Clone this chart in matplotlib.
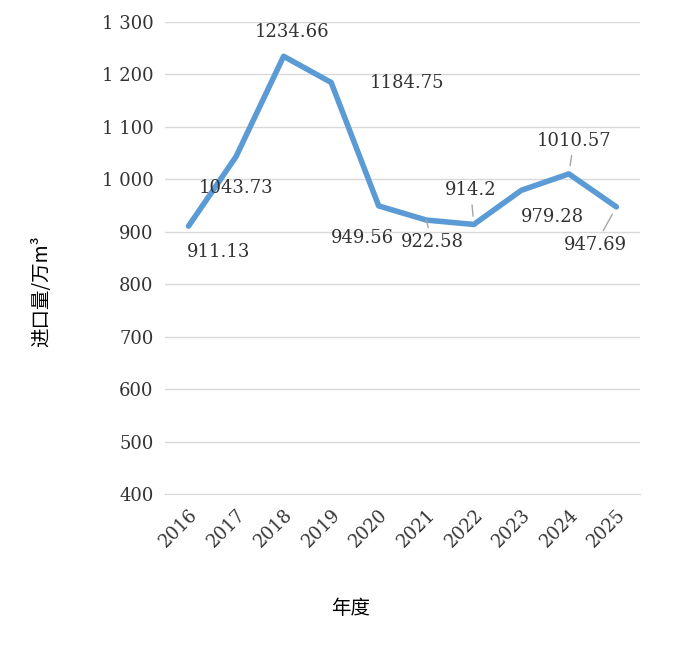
import matplotlib
matplotlib.use("Agg")
import matplotlib.pyplot as plt

years = ["2016","2017","2018","2019","2020","2021","2022","2023","2024","2025"]
values = [911.13,1043.73,1234.66,1184.75,949.56,922.58,914.2,979.28,1010.57,947.69]
labels = ["911.13","1043.73","1234.66","1184.75","949.56","922.58","914.2","979.28","1010.57","947.69"]
yticks = [400,500,600,700,800,900,1000,1100,1200,1300]
ytick_labels = ["400","500","600","700","800","900","1 000","1 100","1 200","1 300"]
# label offsets in pixels (dx, dy up)
offs = [(30,-26),(0,-32),(8,24),(76,-1),(-16,-32),(6,-22),(-3,34),(31,-27),(5,33),(-21,-38)]
leader = [False,False,False,False,False,True,True,False,True,True]

plt.rcParams['font.family'] = ['DejaVu Serif', 'Noto Sans CJK SC']
fig = plt.figure(figsize=(6.81,6.47), dpi=100)
ax = fig.add_axes([0.242,0.236,0.698,0.730])
x = list(range(len(years)))
ax.plot(x, values, color='#5b9bd5', lw=4, solid_capstyle='round', zorder=3)
ax.set_xlim(-0.5, len(years)-0.5)
ax.set_ylim(400,1300)
ax.set_yticks(yticks)
ax.set_yticklabels(ytick_labels)
ax.set_xticks(x)
ax.set_xticklabels(years, rotation=45, ha='right', rotation_mode='anchor')
ax.grid(axis='y', color='#d9d9d9', lw=1)
ax.set_axisbelow(True)
for s in ['top','right','left']:
    ax.spines[s].set_visible(False)
ax.spines['bottom'].set_color('#d9d9d9')
ax.tick_params(length=0, labelsize=13, colors='#333333', pad=8)
for i,(v,l,(dx,dy),ld) in enumerate(zip(values,labels,offs,leader)):
    ap = dict(arrowstyle='-', color='#a6a6a6', lw=1, shrinkA=2, shrinkB=6) if ld else None
    ax.annotate(l, (i,v), xytext=(dx*0.72, dy*0.72), textcoords='offset points',
                ha='center', va='center', fontsize=13, color='#333333', arrowprops=ap)
fig.text(0.515, 0.06, "年度", ha='center', va='center', fontsize=14, family=['Noto Sans CJK SC'])
fig.text(0.062, 0.55, "进口量/万m³", ha='center', va='center', rotation=90, fontsize=14,
         family=['Noto Sans CJK SC','DejaVu Sans'])
fig.savefig("out.png", dpi=100, facecolor='white')
